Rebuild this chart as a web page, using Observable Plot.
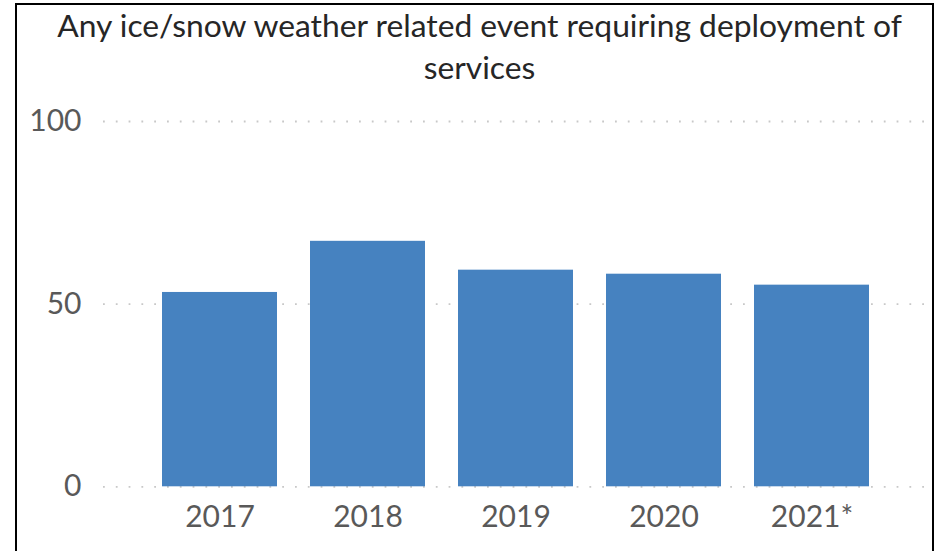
<!DOCTYPE html>
<html>
<head>
<meta charset="utf-8">
<script src="https://cdn.jsdelivr.net/npm/d3@7"></script>
<script src="https://cdn.jsdelivr.net/npm/@observablehq/plot@0.6"></script>
<style>
  html, body { margin: 0; padding: 0; background: #fff; overflow: hidden; width: 943px; height: 551px; }
  #frame { position: absolute; left: 15px; top: 3px; width: 919px; height: 620px; border: 2.5px solid #000; box-sizing: border-box; }
  #chart { position: absolute; left: 0; top: 0; width: 943px; }
  #title { height: 90px; box-sizing: border-box; padding-top: 4px; padding-left: 16px; text-align: center; font-family: Lato, sans-serif; font-size: 31.8px; line-height: 42px; color: #262626; }
</style>
</head>
<body>
<div id="frame"></div>
<div id="chart">
  <div id="title">Any ice/snow weather related event requiring deployment of<br>services</div>
</div>
<script>
const years = ["2017", "2018", "2019", "2020", "2021*"];
const values = [53.2, 67.2, 59.3, 58.2, 55.2];
const yTicks = [0, 50, 100];

const data = years.map((y, i) => ({year: y, value: values[i]}));

const chart = Plot.plot({
  width: 943,
  height: 461,
  marginTop: 31,
  marginBottom: 64.7,
  marginLeft: 103,
  marginRight: 19,
  style: {fontFamily: "Lato, sans-serif", fontSize: "30px", color: "#595959", background: "transparent"},
  x: {domain: years, paddingInner: 0.222, paddingOuter: 0.375, align: 0.52, label: null},
  y: {domain: [0, 100], label: null},
  marks: [
    Plot.ruleY(yTicks, {stroke: "#c8c8c8", strokeWidth: 1.8, strokeDasharray: "1.8,11", strokeLinecap: "butt"}),
    Plot.barY(data, {x: "year", y: "value", fill: "#4682c0"}),
    Plot.axisY({ticks: yTicks, tickSize: 0, tickPadding: 22, label: null, fill: "#595959"}),
    Plot.axisX({tickSize: 0, tickPadding: 19, label: null, fill: "#595959"})
  ]
});
document.getElementById("chart").appendChild(chart);
</script>
</body>
</html>
